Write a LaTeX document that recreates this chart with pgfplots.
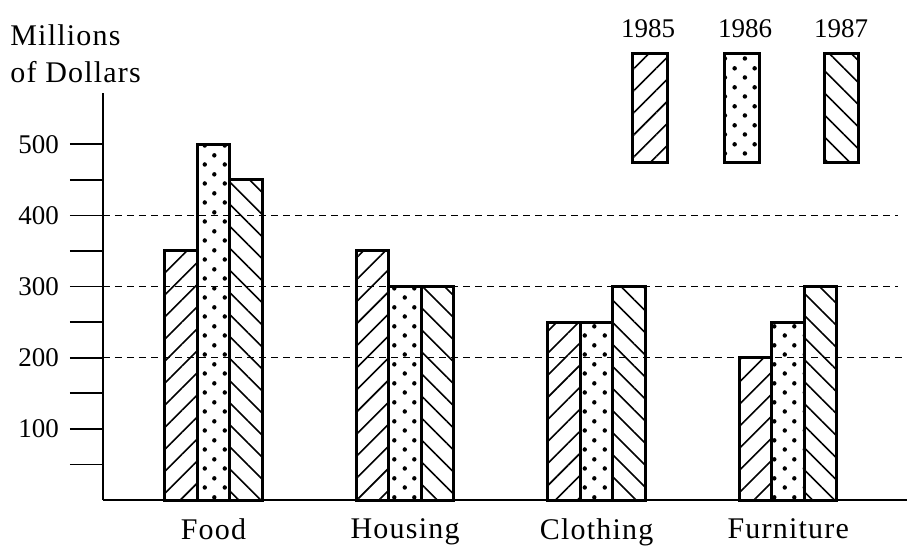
\documentclass[border=0pt]{standalone}
\usepackage{fontspec}
\setmainfont{Liberation Serif}
\usepackage{pgfplots}
\pgfplotsset{compat=1.18}
\usetikzlibrary{patterns,patterns.meta}

\pgfdeclarepatternformonly{sdots}{\pgfpointorigin}{\pgfpoint{10pt}{9.3pt}}{\pgfpoint{10pt}{9.3pt}}{%
  \pgfpathcircle{\pgfpoint{2.5pt}{2.3pt}}{1.15pt}%
  \pgfpathcircle{\pgfpoint{7.5pt}{6.95pt}}{1.15pt}%
  \pgfusepath{fill}}

\tikzset{
  s85/.style={pattern={Lines[angle=45,distance=7.8pt,line width=0.8pt]}},
  s86/.style={pattern=sdots},
  s87/.style={pattern={Lines[angle=-45,distance=7.8pt,line width=0.8pt]}},
  wfont/.style={font=\fontsize{15}{18}\selectfont\addfontfeature{LetterSpace=4}},
  nfont/.style={font=\fontsize{13.5}{16}\selectfont},
}

\begin{document}
\begin{tikzpicture}
\path[use as bounding box] (-51.5pt,-24pt) rectangle (403pt,250pt);
\begin{axis}[
  at={(0,0)}, anchor=south west,
  scale only axis, width=402pt, height=203.5pt,
  xmin=-0.577, xmax=3.62, ymin=0, ymax=572,
  axis lines=left, axis line style={-, line width=0.8pt},
  ybar=0pt, bar width=16.25pt,
  xtick={0,1,2,3}, xticklabels={Food,Housing,Clothing,Furniture},
  major x tick style=transparent,
  xticklabel style={wfont, yshift=10.8pt},
  ytick={50,100,...,500}, yticklabels={,100,,200,,300,,400,,500},
  tick align=outside, major tick length=16.5pt,
  y tick style={line width=0.8pt, black},
  yticklabel style={nfont, xshift=-2pt},
  clip=false,
  every axis plot/.append style={draw=black, line width=1.5pt, line join=miter},
]
\addplot[s85] coordinates {(0,350) (1,350) (2,250) (3,200)};
\addplot[s86] coordinates {(0,500) (1,300) (2,250) (3,250)};
\addplot[s87] coordinates {(0,450) (1,300) (2,300) (3,300)};
\draw[dash pattern=on 3.5pt off 2.5pt, line width=0.7pt] (axis cs:-0.577,400) -- (axis cs:3.574,400);
\draw[dash pattern=on 3.5pt off 2.5pt, line width=0.7pt] (axis cs:-0.577,300) -- (axis cs:3.574,300);
\draw[dash pattern=on 3.5pt off 2.5pt, line width=0.7pt] (axis cs:-0.577,200) -- (axis cs:3.62,200);
\end{axis}
\node[wfont, anchor=base west, inner sep=0pt] at (-46.5pt,227.5pt) {Millions};
\node[wfont, anchor=base west, inner sep=0pt] at (-46.5pt,209pt) {of Dollars};
\node[nfont, anchor=base, inner sep=0pt] at (272.5pt,231.5pt) {1985};
\node[nfont, anchor=base, inner sep=0pt] at (321pt,231.5pt) {1986};
\node[nfont, anchor=base, inner sep=0pt] at (369pt,231.5pt) {1987};
\draw[line width=1.5pt, s85] (264.5pt,169pt) rectangle (282pt,223.5pt);
\draw[line width=1.5pt, s86] (310.5pt,169pt) rectangle (328pt,223.5pt);
\draw[line width=1.5pt, s87] (360.5pt,169pt) rectangle (377.5pt,223.5pt);
\end{tikzpicture}
\end{document}
